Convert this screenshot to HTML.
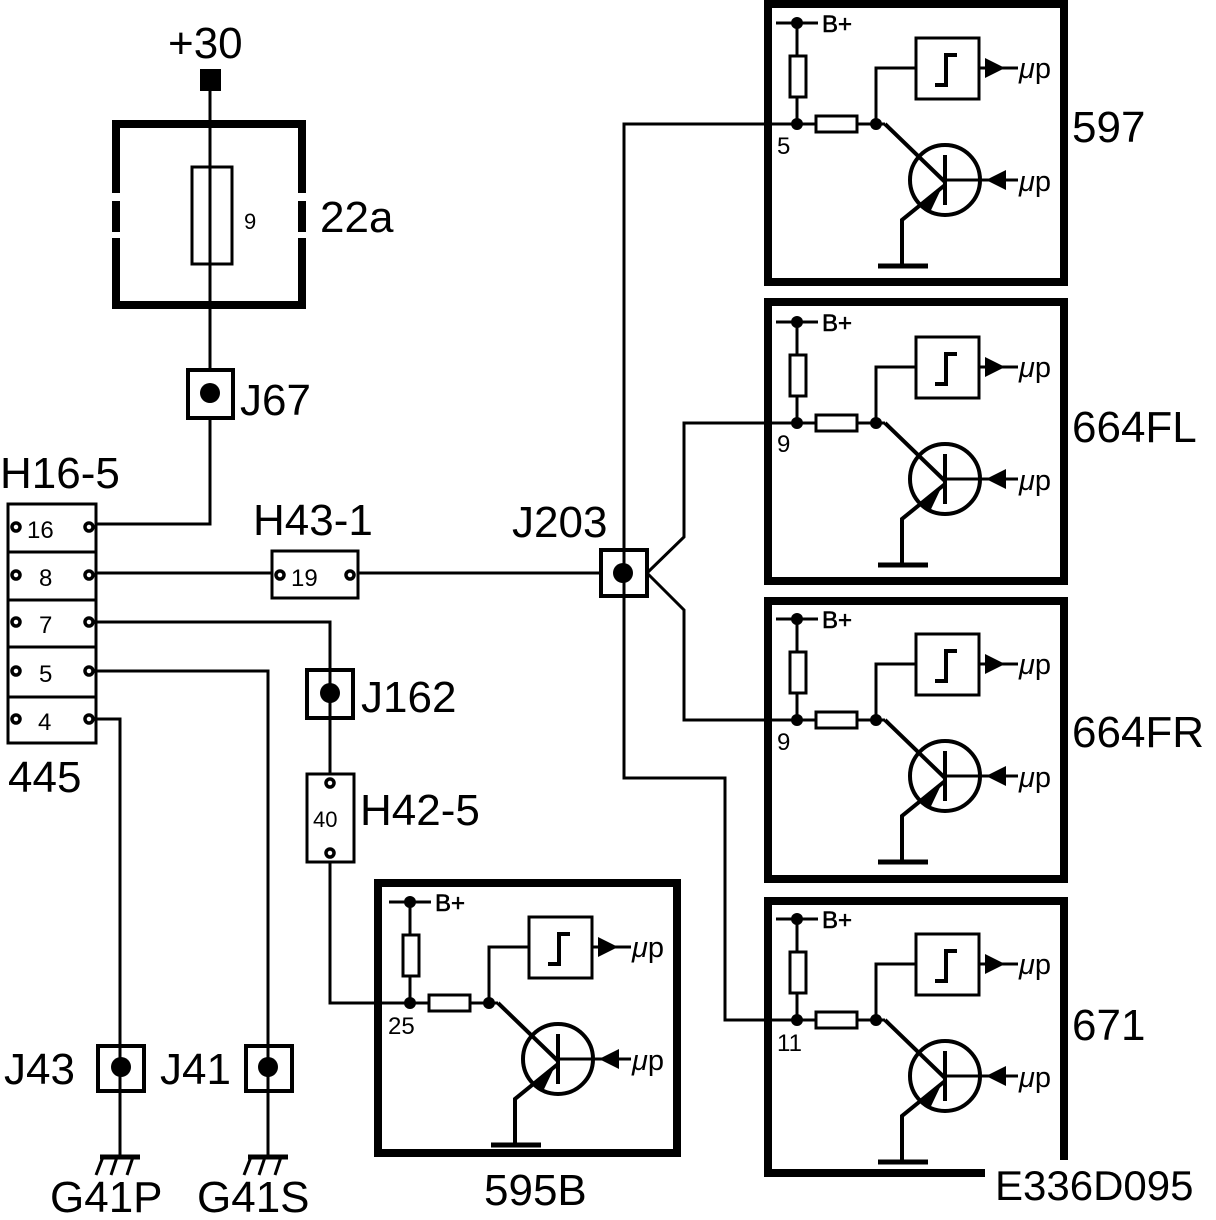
<!DOCTYPE html>
<html><head><meta charset="utf-8"><style>
html,body{margin:0;padding:0;background:#fff}
svg{display:block}
text{font-family:"Liberation Sans",sans-serif;fill:#000}
</style></head><body>
<svg width="1216" height="1220" viewBox="0 0 1216 1220" xmlns="http://www.w3.org/2000/svg">
<defs>
<g id="mod">
  <line x1="776" y1="23" x2="818" y2="23" stroke="#000" stroke-width="3"/>
  <circle cx="797" cy="23" r="6"/>
  <text x="822" y="32" font-size="24" stroke="#000" stroke-width="0.6">B+</text>
  <line x1="797" y1="23" x2="797" y2="124" stroke="#000" stroke-width="3"/>
  <rect x="790" y="56" width="16" height="41" fill="#fff" stroke="#000" stroke-width="3"/>
  <line x1="797" y1="124" x2="885" y2="124" stroke="#000" stroke-width="3"/>
  <rect x="816" y="116" width="41" height="16" fill="#fff" stroke="#000" stroke-width="3"/>
  <circle cx="797" cy="124" r="6"/>
  <circle cx="876" cy="124" r="6"/>
  <polyline points="876,124 876,68 916,68" fill="none" stroke="#000" stroke-width="3"/>
  <rect x="916" y="38" width="63" height="61" fill="#fff" stroke="#000" stroke-width="3"/>
  <polyline points="935,85 946,85 946,55 957,55" fill="none" stroke="#000" stroke-width="4"/>
  <line x1="979" y1="68" x2="1018" y2="68" stroke="#000" stroke-width="3"/>
  <polygon points="985,58 1005,68 985,78"/>
  <text x="1019" y="78" font-size="29"><tspan font-style="italic">μ</tspan>p</text>
  <circle cx="945" cy="180" r="35" fill="none" stroke="#000" stroke-width="4"/>
  <line x1="885" y1="124" x2="945" y2="182" stroke="#000" stroke-width="4"/>
  <line x1="945" y1="155" x2="945" y2="205" stroke="#000" stroke-width="4"/>
  <line x1="945" y1="180" x2="1018" y2="180" stroke="#000" stroke-width="3"/>
  <polygon points="1006,170 986,180 1006,190"/>
  <text x="1019" y="191" font-size="29"><tspan font-style="italic">μ</tspan>p</text>
  <polyline points="945,185 902,220 902,266" fill="none" stroke="#000" stroke-width="4"/>
  <polygon points="922,206 940,189 930,210" stroke="#000" stroke-width="2"/>
  <line x1="878" y1="266" x2="928" y2="266" stroke="#000" stroke-width="5"/>
</g>
</defs>
<g stroke="#000" fill="none">
  <rect x="768" y="4" width="296" height="278" stroke-width="8"/>
  <rect x="768" y="302" width="296" height="279" stroke-width="8"/>
  <rect x="768" y="601" width="296" height="278" stroke-width="8"/>
  <polyline points="985,1173 768,1173 768,901 1064,901 1064,1160" stroke-width="8"/>
  <rect x="378" y="883" width="299" height="270" stroke-width="8"/>

  <polyline points="116,193 116,124 302,124 302,193" stroke-width="8"/>
  <line x1="116" y1="201" x2="116" y2="232" stroke-width="8"/>
  <line x1="302" y1="201" x2="302" y2="232" stroke-width="8"/>
  <polyline points="116,238 116,305 302,305 302,238" stroke-width="8"/>
  <line x1="210" y1="85" x2="210" y2="370" stroke-width="3"/>
  <rect x="192" y="167" width="40" height="97" stroke-width="3"/>

  <rect x="188" y="370" width="45" height="48" stroke-width="4"/>
  <polyline points="210,418 210,524 95,524" stroke-width="3"/>

  <rect x="8" y="504" width="88" height="239" stroke-width="3"/>
  <line x1="8" y1="552" x2="96" y2="552" stroke-width="3"/>
  <line x1="8" y1="600" x2="96" y2="600" stroke-width="3"/>
  <line x1="8" y1="647" x2="96" y2="647" stroke-width="3"/>
  <line x1="8" y1="697" x2="96" y2="697" stroke-width="3"/>

  <line x1="95" y1="573" x2="272" y2="573" stroke-width="3"/>
  <rect x="272" y="551" width="86" height="47" stroke-width="3"/>
  <line x1="357" y1="573" x2="600" y2="573" stroke-width="3"/>
  <polyline points="95,622 330,622 330,773" stroke-width="3"/>
  <rect x="307" y="670" width="46" height="48" stroke-width="4"/>
  <rect x="307" y="774" width="47" height="88" stroke-width="3"/>
  <polyline points="330,862 330,1003 410,1003" stroke-width="3"/>
  <polyline points="95,671 268,671 268,1157" stroke-width="3"/>
  <polyline points="95,719 120,719 120,1157" stroke-width="3"/>
  <rect x="98" y="1046" width="46" height="45" stroke-width="4"/>
  <rect x="246" y="1046" width="46" height="45" stroke-width="4"/>

  <rect x="601" y="550" width="46" height="46" stroke-width="4"/>
  <polyline points="797,124 624,124 624,778 725,778 725,1020 797,1020" stroke-width="3"/>
  <polyline points="647,573 684,537 684,423 797,423" stroke-width="3"/>
  <polyline points="647,573 684,610 684,720 797,720" stroke-width="3"/>

  <line x1="100" y1="1157" x2="140" y2="1157" stroke-width="5"/>
  <line x1="103" y1="1157" x2="96" y2="1175" stroke-width="3"/>
  <line x1="117" y1="1157" x2="111" y2="1175" stroke-width="3"/>
  <line x1="133" y1="1157" x2="127" y2="1175" stroke-width="3"/>
  <line x1="248" y1="1157" x2="288" y2="1157" stroke-width="5"/>
  <line x1="251" y1="1157" x2="244" y2="1175" stroke-width="3"/>
  <line x1="265" y1="1157" x2="259" y2="1175" stroke-width="3"/>
  <line x1="281" y1="1157" x2="275" y2="1175" stroke-width="3"/>
</g>
<g fill="#fff" stroke="#000" stroke-width="3.5">
  <circle cx="16" cy="527" r="4"/><circle cx="89" cy="527" r="4"/>
  <circle cx="16" cy="575" r="4"/><circle cx="89" cy="575" r="4"/>
  <circle cx="16" cy="622" r="4"/><circle cx="89" cy="622" r="4"/>
  <circle cx="16" cy="671" r="4"/><circle cx="89" cy="671" r="4"/>
  <circle cx="16" cy="719" r="4"/><circle cx="89" cy="719" r="4"/>
  <circle cx="280" cy="575" r="4"/><circle cx="350" cy="575" r="4"/>
  <circle cx="330" cy="783" r="4"/><circle cx="330" cy="853" r="4"/>
</g>
<rect x="200" y="69" width="21" height="22" fill="#000"/>
<circle cx="210" cy="393" r="10"/>
<circle cx="330" cy="693" r="10"/>
<circle cx="623" cy="573" r="10"/>
<circle cx="121" cy="1067" r="10"/>
<circle cx="268" cy="1067" r="10"/>

<use href="#mod"/>
<use href="#mod" transform="translate(0,299)"/>
<use href="#mod" transform="translate(0,596)"/>
<use href="#mod" transform="translate(0,896)"/>
<use href="#mod" transform="translate(-387,879)"/>

<g font-size="24">
<text x="777" y="154">5</text>
<text x="777" y="452">9</text>
<text x="777" y="750">9</text>
<text x="777" y="1051">11</text>
<text x="388" y="1034">25</text>
<text x="244" y="229" font-size="22">9</text>
<text x="27" y="538">16</text>
<text x="39" y="586">8</text>
<text x="39" y="633">7</text>
<text x="39" y="682">5</text>
<text x="38" y="730">4</text>
<text x="291" y="586">19</text>
<text x="313" y="827" font-size="22">40</text>
</g>

<g font-size="44">
<text x="168" y="58">+30</text>
<text x="320" y="232">22a</text>
<text x="240" y="415">J67</text>
<text x="0" y="488">H16-5</text>
<text x="253" y="535">H43-1</text>
<text x="512" y="537">J203</text>
<text x="361" y="712">J162</text>
<text x="360" y="825">H42-5</text>
<text x="8" y="792">445</text>
<text x="4" y="1084">J43</text>
<text x="160" y="1084">J41</text>
<text x="50" y="1212">G41P</text>
<text x="197" y="1212">G41S</text>
<text x="1072" y="142">597</text>
<text x="1072" y="442">664FL</text>
<text x="1072" y="747">664FR</text>
<text x="1072" y="1040">671</text>
<text x="484" y="1205">595B</text>
</g>
<text x="995" y="1200" font-size="42">E336D095</text>
</svg>
</body></html>
